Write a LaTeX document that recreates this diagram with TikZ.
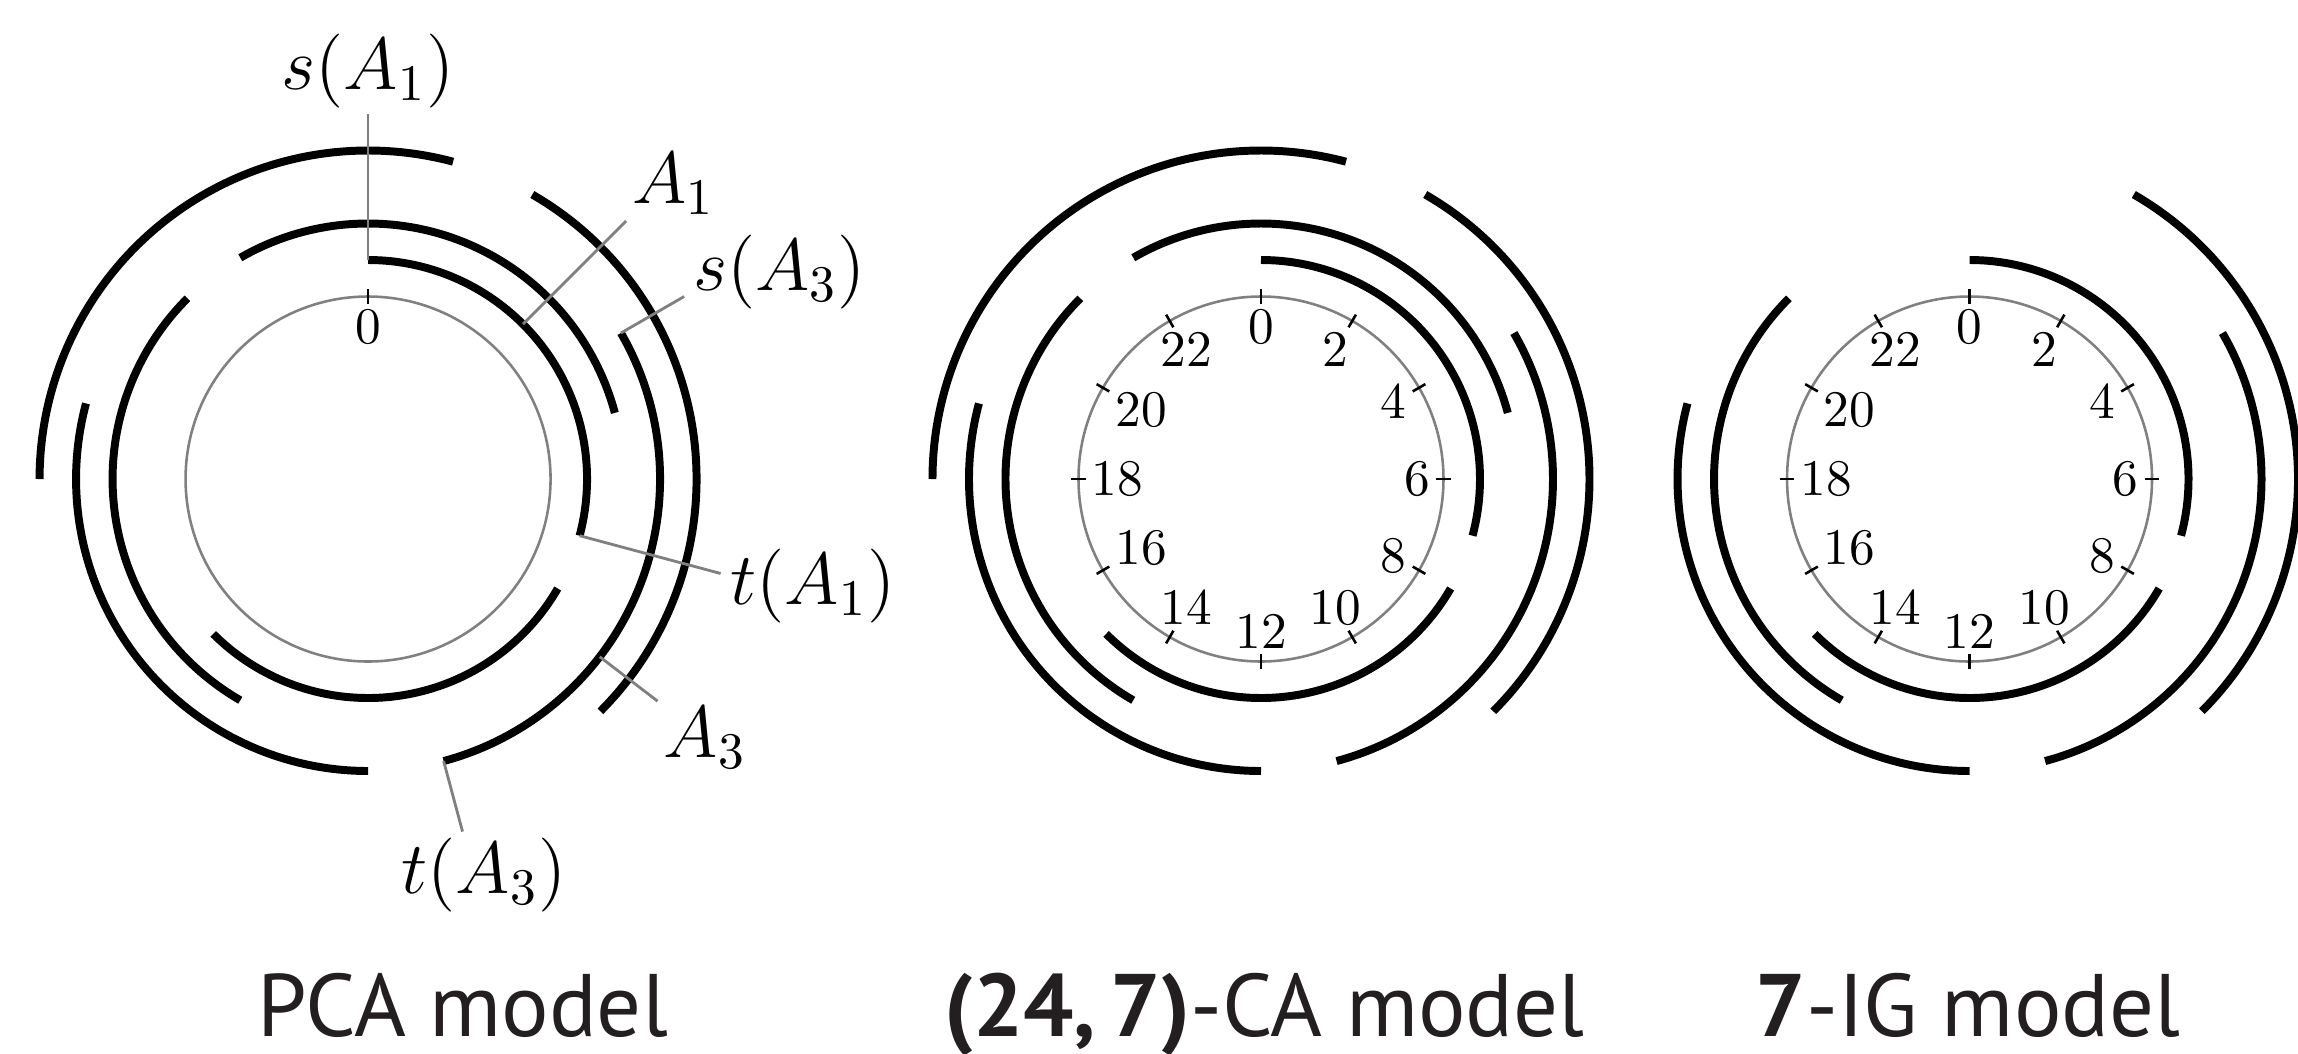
\documentclass[tikz,border=0pt]{standalone}
\usepackage{fontspec}
\newfontfamily\capfont{PT Sans}
\usetikzlibrary{calc}
\definecolor{captext}{HTML}{231F20}
% arc of length 7 (of 24) starting at position #3, on level #2, around centre #1
\newcommand\modelarc[3]{%
  \draw[arcline] ($(#1)+({90-15*(#3)}:{0.25*(5+#2)})$)
    arc[start angle={90-15*(#3)}, delta angle=-105, radius={0.25*(5+#2)}];}
\newcommand\dialticks[2]{% centre, prefix
  \foreach \k in {0,2,...,22}{%
    \pgfmathtruncatemacro\ang{mod(450-15*\k,360)}%
    \draw[tickmark] ($(#1)+(\ang:1.2)$) -- ($(#1)+(\ang:1.3)$);
    \node[num, anchor=\ang] (#2\k) at ($(#1)+(\ang:1.2)$) {$\k$};
  }}
\begin{document}
\begin{tikzpicture}[
  arcline/.style={line width=1.55pt},
  graycirc/.style={draw=gray, line width=0.5pt},
  lead/.style={draw=gray, line width=0.55pt},
  tickmark/.style={line width=0.5pt},
  lbl/.style={font=\Large, inner sep=1pt},
  num/.style={inner sep=1pt},
  capt/.style={font=\capfont\fontsize{17.3}{20}\selectfont, text=captext, anchor=base, inner sep=0pt}
]
\useasboundingbox (0,0) rectangle (15.74,-7.219);
\coordinate (P) at (2.521,-3.281);
\coordinate (C) at (8.637,-3.281);
\coordinate (G) at (13.49,-3.281);

% ---------- PCA model ----------
\draw[graycirc] (P) circle[radius=1.25];
\draw[tickmark] ($(P)+(90:1.2)$) -- ($(P)+(90:1.3)$);
\node[num, anchor=90] (p0) at ($(P)+(90:1.2)$) {$0$};
\modelarc{P}{1}{0}
\modelarc{P}{1}{8}
\modelarc{P}{2}{22}
\modelarc{P}{2}{14}
\modelarc{P}{3}{4}
\modelarc{P}{3}{12}
\modelarc{P}{4}{2}
\modelarc{P}{4}{18}

\coordinate (sA1p) at ($(P)+(90:1.5)$);   \coordinate (sA1e) at ($(P)+(90:2.5)$);
\coordinate (A1p)  at ($(P)+(45:1.5)$);   \coordinate (A1e)  at ($(P)+(45:2.5)$);
\coordinate (sA3p) at ($(P)+(30:2.0)$);   \coordinate (sA3e) at ($(P)+(30:2.5)$);
\coordinate (tA1p) at ($(P)+(-15:1.5)$);  \coordinate (tA1e) at ($(P)+(-15:2.5)$);
\coordinate (A3p)  at ($(P)+(-37.5:2.0)$);\coordinate (A3e)  at ($(P)+(-37.5:2.5)$);
\coordinate (tA3p) at ($(P)+(-75:2.0)$);  \coordinate (tA3e) at ($(P)+(-75:2.5)$);

\node[lbl, anchor=south] (sA1) at (sA1e) {$s(A_1)$};
\node[lbl, anchor=south west] (A1) at (A1e) {$A_1$};
\node[lbl, anchor=west] (sA3) at ($(sA3e)+(0.02,0.168)$) {$s(A_3)$};
\node[lbl, anchor=west] (tA1) at ($(tA1e)+(0.027,-0.086)$) {$t(A_1)$};
\node[lbl, anchor=north west] (A3) at (A3e) {$A_3$};
\node[lbl, anchor=north] (tA3) at ($(tA3e)+(0.147,0)$) {$t(A_3)$};

\draw[lead] (sA1p) -- (sA1e);
\draw[lead] (A1p) -- (A1e);
\draw[lead] (sA3p) -- (sA3e);
\draw[lead] (tA1p) -- (tA1e);
\draw[lead] (A3p) -- (A3e);
\draw[lead] (tA3p) -- (tA3e);

% ---------- (24,7)-CA model ----------
\draw[graycirc] (C) circle[radius=1.25];
\dialticks{C}{c}
\modelarc{C}{1}{0}
\modelarc{C}{1}{8}
\modelarc{C}{2}{22}
\modelarc{C}{2}{14}
\modelarc{C}{3}{4}
\modelarc{C}{3}{12}
\modelarc{C}{4}{2}
\modelarc{C}{4}{18}

% ---------- 7-IG model ----------
\draw[graycirc] (G) circle[radius=1.25];
\dialticks{G}{g}
\modelarc{G}{1}{0}
\modelarc{G}{1}{8}
\modelarc{G}{2}{14}
\modelarc{G}{3}{4}
\modelarc{G}{3}{12}
\modelarc{G}{4}{2}

% ---------- captions ----------
\node[capt] (capP) at (3.17,-7.096) {PCA model};
\node[capt] (capC) at (8.66,-7.096) {\textbf{(24,\,7)}-CA model};
\node[capt] (capG) at (13.48,-7.096) {\textbf{7}-IG model};
\end{tikzpicture}
\end{document}
